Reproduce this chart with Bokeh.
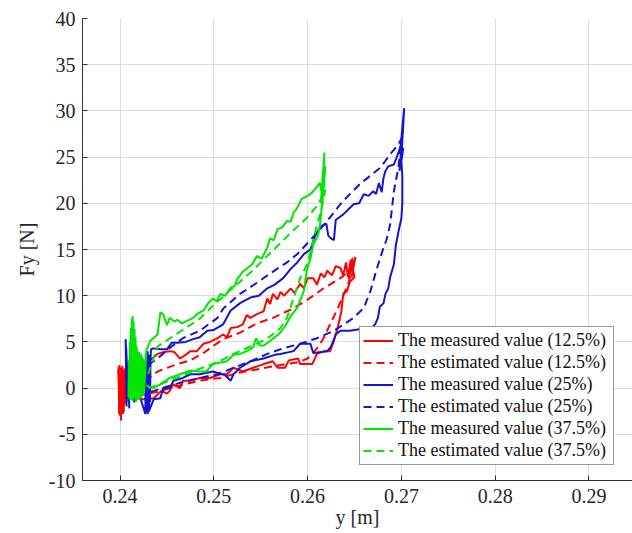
from bokeh.plotting import figure
from bokeh.models import Legend, LegendItem, FixedTicker, Range1d, PrintfTickFormatter
from bokeh.embed import file_html
from bokeh.resources import INLINE

# ---------------- data ----------------
x_ticks = [0.24, 0.25, 0.26, 0.27, 0.28, 0.29]
y_ticks = [-10, -5, 0, 5, 10, 15, 20, 25, 30, 35, 40]

series_labels = [
    "The measured value (12.5%)",
    "The estimated value (12.5%)",
    "The measured value (25%)",
    "The estimated value (25%)",
    "The measured value (37.5%)",
    "The estimated value (37.5%)",
]

red_measured = [
    (0.2402, 0.5), (0.2398, 2.0), (0.2399, -0.5), (0.23985, 2.3), (0.2399, -2.8),
    (0.23995, 2.5), (0.2400, -3.0), (0.24005, 2.2), (0.2401, -3.5), (0.24015, 1.8),
    (0.2402, -2.2), (0.24025, 2.4), (0.2403, -1.0), (0.24035, 2.0), (0.2404, -2.6),
    (0.24045, 1.5), (0.2405, -1.8), (0.24055, 2.2), (0.2406, -0.8), (0.24065, 1.2),
    (0.2407, -1.5), (0.24075, 1.9), (0.2408, -0.5), (0.24085, 1.0), (0.2409, -1.2),
    (0.24095, 1.4), (0.2410, -0.3), (0.2400, 1.6), (0.24005, -1.5), (0.2402, 0.8),
    (0.2403, -2.8), (0.2405, 0.5), (0.2411, 1.0), (0.2413, -0.6), (0.2416, 1.8),
    (0.2420, 0.5), (0.2425, 2.0), (0.2432, 3.0), (0.2440, 3.7), (0.2447, 3.9),
    (0.2453, 4.0), (0.2458, 3.9), (0.2464, 3.2), (0.2470, 3.6), (0.2475, 4.0),
    (0.2482, 4.0), (0.2489, 4.8), (0.2496, 5.0), (0.2504, 5.4), (0.2510, 5.8),
    (0.2514, 5.5), (0.2518, 6.5), (0.2525, 6.6), (0.2531, 6.9), (0.2535, 7.9),
    (0.2539, 7.6), (0.2546, 8.0), (0.2553, 8.3), (0.2557, 9.7), (0.2560, 9.1),
    (0.2563, 10.2), (0.2568, 9.6), (0.2571, 10.4), (0.2575, 10.0), (0.2582, 10.8),
    (0.2586, 10.3), (0.2592, 11.3), (0.2596, 10.8), (0.2600, 11.9), (0.2606, 11.9),
    (0.2610, 11.2), (0.2614, 12.4), (0.2618, 12.0), (0.2621, 12.7), (0.2626, 12.2),
    (0.2630, 13.2), (0.2635, 13.0), (0.2638, 12.2), (0.2641, 13.6), (0.2643, 12.0),
    (0.2646, 13.9), (0.2644, 11.8), (0.2648, 14.1), (0.2645, 12.5), (0.2650, 13.8),
    (0.2647, 12.0), (0.2651, 14.2), (0.2648, 13.0), (0.2650, 12.0), (0.2645, 11.5),
    (0.2642, 10.5), (0.2638, 10.2), (0.2636, 8.3), (0.2632, 6.5), (0.2628, 5.1),
    (0.2624, 4.0), (0.2618, 4.0), (0.2610, 3.7), (0.2605, 2.6), (0.2592, 2.6),
    (0.2590, 3.2), (0.2580, 3.0), (0.2576, 2.2), (0.2568, 2.2), (0.2563, 2.9),
    (0.2553, 2.6), (0.2542, 2.2), (0.2531, 1.8), (0.2521, 2.2), (0.2514, 1.5),
    (0.2507, 1.5), (0.2496, 1.1), (0.2485, 1.1), (0.2475, 0.8), (0.2467, 0.8),
    (0.2464, 0.0), (0.2457, 0.4), (0.2453, -0.3), (0.2450, -0.6), (0.2444, -0.3),
    (0.2436, -1.1), (0.2425, -1.2), (0.2415, -1.1), (0.2408, -0.5),
]

red_estimated = [
    (0.2415, 0.0), (0.2430, 1.0), (0.2440, 1.8), (0.2461, 2.6), (0.2475, 3.0),
    (0.2489, 3.8), (0.2500, 4.6), (0.2510, 5.3), (0.2528, 6.0), (0.2546, 7.0),
    (0.2563, 7.6), (0.2582, 8.5), (0.2599, 9.5), (0.2617, 10.8), (0.2635, 11.9),
    (0.2646, 12.8), (0.2648, 13.0), (0.2644, 11.5), (0.2638, 10.0), (0.2632, 8.6),
    (0.2624, 6.9), (0.2617, 5.4), (0.2610, 4.3), (0.2600, 3.2), (0.2590, 2.8),
    (0.2571, 2.5), (0.2550, 2.1), (0.2528, 1.7), (0.2507, 1.1), (0.2485, 0.8),
    (0.2460, 0.2), (0.2440, -0.4), (0.2420, -0.8),
]

blue_measured = [
    (0.2407, -2.0), (0.2406, 5.3), (0.2408, 0.5), (0.24065, 4.5), (0.2409, -1.0),
    (0.2407, 3.0), (0.2410, -2.2), (0.2408, 1.5), (0.2415, -1.5), (0.2420, -0.5),
    (0.2427, -2.8), (0.24275, 3.8), (0.2428, -2.0), (0.24285, 3.5), (0.2429, -2.6),
    (0.24295, 4.0), (0.2430, -1.0), (0.24305, 3.2), (0.2431, -2.5), (0.24315, 3.6),
    (0.2432, -1.5), (0.24325, 3.0), (0.2433, 4.2), (0.2435, 4.3), (0.2443, 4.2),
    (0.2450, 4.2), (0.2455, 4.9), (0.2461, 4.9), (0.2470, 5.0), (0.2478, 5.3),
    (0.2485, 5.5), (0.2493, 6.2), (0.2500, 6.3), (0.2510, 6.9), (0.2518, 8.4),
    (0.2528, 9.2), (0.2539, 9.8), (0.2548, 10.0), (0.2557, 10.8), (0.2565, 11.2),
    (0.2574, 11.9), (0.2582, 12.9), (0.2589, 13.6), (0.2596, 14.5), (0.2603, 15.0),
    (0.2608, 16.5), (0.2614, 17.5), (0.2620, 17.8), (0.2622, 16.5), (0.2625, 16.2),
    (0.2628, 16.0), (0.2630, 18.2), (0.2638, 18.8), (0.2645, 19.5), (0.2649, 19.9),
    (0.2655, 20.0), (0.2660, 21.0), (0.2665, 20.8), (0.2670, 21.3), (0.2673, 21.0),
    (0.2676, 22.2), (0.2679, 21.2), (0.2681, 22.8), (0.2683, 23.5), (0.2686, 24.0),
    (0.2692, 24.2), (0.2697, 25.5), (0.2700, 26.5), (0.2702, 28.0), (0.2699, 26.0),
    (0.2703, 30.3), (0.2700, 25.0), (0.2702, 29.0), (0.2699, 24.0), (0.2701, 27.5),
    (0.2698, 23.5), (0.2702, 26.0), (0.2700, 24.5), (0.2701, 23.0), (0.2701, 20.0),
    (0.2700, 18.4), (0.2697, 17.0), (0.2694, 15.4), (0.2692, 13.4), (0.2688, 12.0),
    (0.2686, 10.8), (0.2683, 10.2), (0.2681, 9.2), (0.2677, 8.8), (0.2675, 7.6),
    (0.2672, 6.9), (0.2668, 6.5), (0.2657, 6.4), (0.2645, 6.2), (0.2635, 6.2),
    (0.2630, 5.8), (0.2625, 4.5), (0.2621, 4.0), (0.2606, 3.8), (0.2603, 4.8),
    (0.2592, 4.8), (0.2585, 4.0), (0.2571, 3.7), (0.2565, 3.6), (0.2553, 3.2),
    (0.2539, 2.9), (0.2528, 2.2), (0.2521, 1.5), (0.2518, 0.8), (0.2512, 1.4),
    (0.2499, 1.8), (0.2485, 1.5), (0.2475, 1.5), (0.2467, 1.1), (0.2457, 0.8),
    (0.2453, 0.0), (0.2446, 0.0), (0.2443, -1.1), (0.2436, -1.2), (0.2432, -2.2),
    (0.2429, -2.8),
]

blue_estimated = [
    (0.2430, 2.5), (0.2440, 3.2), (0.2455, 4.5), (0.2467, 5.4), (0.2485, 6.2),
    (0.2504, 7.6), (0.2510, 8.6), (0.2528, 10.2), (0.2546, 11.4), (0.2560, 12.4),
    (0.2578, 13.6), (0.2590, 14.6), (0.2599, 15.6), (0.2610, 16.8), (0.2621, 18.1),
    (0.2635, 19.9), (0.2645, 21.0), (0.2656, 22.1), (0.2667, 23.0), (0.2678, 23.9),
    (0.2688, 25.3), (0.2697, 26.4), (0.2700, 27.0), (0.2697, 24.0), (0.2692, 21.3),
    (0.2688, 17.7), (0.2684, 16.0), (0.2681, 15.2), (0.2674, 13.0), (0.2667, 10.5),
    (0.2660, 8.7), (0.2649, 7.6), (0.2640, 7.0), (0.2628, 6.2), (0.2610, 5.4),
    (0.2592, 4.8), (0.2574, 4.3), (0.2557, 3.7), (0.2539, 2.9), (0.2521, 2.2),
    (0.2504, 1.5), (0.2485, 1.1), (0.2465, 0.6), (0.2445, 0.0), (0.2430, -0.5),
]

green_measured = [
    (0.2409, -1.0), (0.24095, 3.0), (0.2410, -1.2), (0.24105, 5.0), (0.2411, -0.8),
    (0.24115, 6.5), (0.2412, -1.3), (0.24125, 7.5), (0.2413, -0.6), (0.24135, 7.8),
    (0.2414, -1.4), (0.24145, 7.2), (0.2415, -0.9), (0.24155, 6.4), (0.2416, -1.1),
    (0.24165, 5.5), (0.2417, -1.5), (0.24175, 4.6), (0.2418, -0.7), (0.24185, 4.2),
    (0.2419, -1.2), (0.24195, 3.8), (0.2420, -0.5), (0.24205, 3.9), (0.2421, -1.3),
    (0.24215, 3.5), (0.2422, -0.6), (0.24225, 3.7), (0.2423, -1.0), (0.24235, 3.4),
    (0.2424, -0.4), (0.24245, 3.2), (0.2425, -0.8), (0.24255, 3.0), (0.2426, 0.0),
    (0.2428, 4.0), (0.2432, 5.1), (0.2440, 5.8), (0.2443, 8.2), (0.2446, 8.0),
    (0.2450, 6.8), (0.2453, 7.6), (0.2458, 7.2), (0.2461, 7.4), (0.2466, 7.0),
    (0.2472, 7.3), (0.2478, 7.6), (0.2482, 8.0), (0.2489, 8.4), (0.2494, 9.2),
    (0.2499, 9.7), (0.2503, 9.4), (0.2507, 10.2), (0.2512, 10.0), (0.2518, 10.9),
    (0.2522, 11.0), (0.2525, 11.8), (0.2531, 12.6), (0.2536, 13.0), (0.2541, 13.4),
    (0.2546, 14.3), (0.2551, 14.0), (0.2557, 15.2), (0.2560, 16.2), (0.2564, 16.0),
    (0.2568, 17.2), (0.2573, 17.4), (0.2578, 18.1), (0.2582, 18.0), (0.2585, 19.0),
    (0.2589, 19.5), (0.2593, 20.4), (0.2596, 20.6), (0.2600, 20.8), (0.2603, 21.0),
    (0.2606, 21.3), (0.2610, 21.8), (0.2613, 22.2), (0.2615, 21.2), (0.2617, 23.8),
    (0.2614, 20.0), (0.2618, 25.5), (0.2616, 21.0), (0.2619, 24.0), (0.2615, 19.5),
    (0.2618, 22.5), (0.2614, 18.5), (0.2616, 20.5), (0.2613, 17.5), (0.2611, 16.5),
    (0.2606, 15.5), (0.2603, 14.0), (0.2599, 12.7), (0.2596, 10.5), (0.2592, 9.5),
    (0.2589, 8.7), (0.2582, 7.8), (0.2576, 6.7), (0.2570, 5.9), (0.2565, 5.5),
    (0.2560, 5.1), (0.2553, 4.6), (0.2549, 4.6), (0.2545, 5.4), (0.2542, 4.4),
    (0.2535, 4.0), (0.2528, 3.7), (0.2521, 3.6), (0.2514, 2.9), (0.2499, 2.6),
    (0.2492, 1.8), (0.2485, 1.8), (0.2475, 1.9), (0.2464, 1.5), (0.2453, 1.1),
    (0.2443, 0.4), (0.2435, 0.0), (0.2428, 0.3),
]

green_estimated = [
    (0.2430, 1.5), (0.2440, 4.5), (0.2455, 5.5), (0.2470, 6.5), (0.2485, 7.5),
    (0.2500, 9.0), (0.2520, 10.8), (0.2540, 12.6), (0.2560, 14.6), (0.2580, 16.6),
    (0.2600, 18.5), (0.2612, 20.0), (0.2619, 21.5), (0.2614, 19.0), (0.2610, 17.7),
    (0.2606, 15.9), (0.2600, 13.5), (0.2592, 11.9), (0.2585, 9.7), (0.2578, 7.6),
    (0.2571, 6.5), (0.2560, 5.6), (0.2550, 5.0), (0.2539, 4.5), (0.2521, 3.7),
    (0.2504, 2.8), (0.2485, 2.1), (0.2465, 1.3), (0.2445, 0.5), (0.2430, 0.0),
]

# ---------------- figure ----------------
SERIF = "Liberation Serif"
RED, BLUE, GREEN = "#ff0000", "#1414d2", "#00e600"

p = figure(width=632, height=533,
           x_range=Range1d(0.236, 0.29464), y_range=Range1d(-10, 40),
           output_backend="svg", toolbar_location=None,
           min_border_left=82, min_border_right=0,
           min_border_top=18, min_border_bottom=53)

p.background_fill_color = "white"
p.border_fill_color = "white"
p.outline_line_color = None

p.xaxis.ticker = FixedTicker(ticks=x_ticks)
p.yaxis.ticker = FixedTicker(ticks=y_ticks)
p.xgrid.ticker = FixedTicker(ticks=x_ticks)
p.ygrid.ticker = FixedTicker(ticks=y_ticks)
p.xaxis.formatter = PrintfTickFormatter(format="%.2f")
p.yaxis.formatter = PrintfTickFormatter(format="%d")
p.grid.grid_line_color = "#dcdcdc"
p.grid.grid_line_width = 1

for ax in (p.xaxis[0], p.yaxis[0]):
    ax.axis_line_color = "#333333"
    ax.major_tick_line_color = "#333333"
    ax.major_tick_in = 5
    ax.major_tick_out = 0
    ax.minor_tick_line_color = None
    ax.major_label_text_font = SERIF
    ax.major_label_text_font_size = "20px"
    ax.major_label_text_color = "#262626"
    ax.axis_label_text_font = SERIF
    ax.axis_label_text_font_size = "20px"
    ax.axis_label_text_font_style = "normal"
    ax.axis_label_text_color = "#262626"

p.xaxis.axis_label = "y [m]"
p.yaxis.axis_label = "Fy [N]"
p.xaxis.major_label_standoff = 8
p.xaxis.axis_label_standoff = 0
p.yaxis.major_label_standoff = 7
p.yaxis.axis_label_standoff = 8

def unzip(pts):
    return [a for a, _ in pts], [b for _, b in pts]

styles = [
    (red_measured, RED, "solid"),
    (red_estimated, RED, "8 5"),
    (blue_measured, BLUE, "solid"),
    (blue_estimated, BLUE, "8 5"),
    (green_measured, GREEN, "solid"),
    (green_estimated, GREEN, "8 5"),
]

items = []
for (pts, col, dash), lab in zip(styles, series_labels):
    xs, ys = unzip(pts)
    r = p.line(xs, ys, line_color=col, line_width=2, line_dash=dash)
    items.append(LegendItem(label=lab, renderers=[r]))

legend = Legend(items=items, location=(277, 15))
legend.label_text_font = SERIF
legend.label_text_font_size = "18px"
legend.label_text_color = "#111111"
legend.glyph_width = 30
legend.glyph_height = 21
legend.label_height = 21
legend.label_width = 212
legend.label_standoff = 5
legend.spacing = 1
legend.padding = 3
legend.margin = 0
legend.border_line_color = "#333333"
legend.border_line_width = 1
legend.background_fill_color = "white"
legend.background_fill_alpha = 1.0
p.add_layout(legend)

open("out.html", "w").write(file_html(p, INLINE))
